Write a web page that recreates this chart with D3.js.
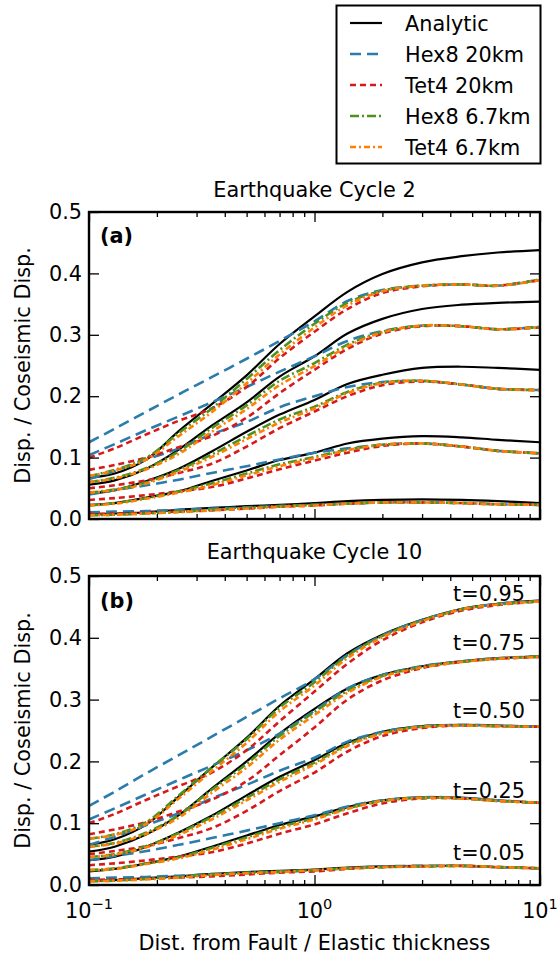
<!DOCTYPE html>
<html><head><meta charset="utf-8">
<script src="https://cdn.jsdelivr.net/npm/d3@7"></script>
<style>body{margin:0;background:#fff} text{font-family:"DejaVu Sans",sans-serif;fill:#000}</style>
</head><body><svg id="chart" width="560" height="960"></svg>
<script>
// ---------- data ----------
const xValues = [0.1,0.13,0.18,0.25,0.35,0.5,0.7,1,1.4,2,3,4.5,6.5,10];
const timeLabels = ["t=0.05","t=0.25","t=0.50","t=0.75","t=0.95"];
const seriesNames = ["Analytic","Hex8 20km","Tet4 20km","Hex8 6.7km","Tet4 6.7km"];
const yTickValues = [0,0.1,0.2,0.3,0.4,0.5];
const xMajorTicks = [0.1,1,10];
const xTickExponents = ["\u22121","0","1"];
const xMinorTicks = [0.2,0.3,0.4,0.5,0.6,0.7,0.8,0.9,2,3,4,5,6,7,8,9];
const panelTitles = ["Earthquake Cycle 2","Earthquake Cycle 10"];
const panelTags = ["(a)","(b)"];

// Cycle 2 (rows: t=0.05, 0.25, 0.50, 0.75, 0.95)
const c2Analytic = [
 [0.007,0.009,0.011,0.015,0.018,0.021,0.023,0.026,0.029,0.031,0.032,0.031,0.029,0.026],
 [0.023,0.026,0.035,0.045,0.062,0.079,0.096,0.108,0.123,0.131,0.135,0.133,0.129,0.125],
 [0.041,0.047,0.062,0.082,0.110,0.142,0.170,0.194,0.220,0.235,0.246,0.248,0.246,0.243],
 [0.056,0.063,0.082,0.113,0.152,0.190,0.232,0.265,0.302,0.326,0.342,0.349,0.352,0.354],
 [0.067,0.074,0.097,0.143,0.187,0.234,0.285,0.330,0.370,0.399,0.418,0.428,0.434,0.438]];
const c2Hex20 = [
 [0.011,0.012,0.013,0.015,0.017,0.019,0.021,0.023,0.025,0.027,0.027,0.026,0.024,0.023],
 [0.040,0.047,0.055,0.064,0.075,0.086,0.097,0.108,0.115,0.121,0.123,0.118,0.111,0.107],
 [0.065,0.078,0.097,0.115,0.138,0.158,0.182,0.200,0.215,0.223,0.225,0.219,0.212,0.210],
 [0.104,0.122,0.145,0.167,0.190,0.215,0.240,0.265,0.290,0.306,0.315,0.314,0.309,0.313],
 [0.125,0.147,0.175,0.203,0.231,0.261,0.290,0.322,0.355,0.373,0.380,0.382,0.380,0.390]];
const c2Tet20 = [
 [0.008,0.009,0.010,0.012,0.014,0.017,0.020,0.022,0.025,0.027,0.027,0.026,0.024,0.023],
 [0.031,0.034,0.039,0.045,0.052,0.066,0.081,0.095,0.108,0.119,0.123,0.118,0.111,0.107],
 [0.050,0.055,0.063,0.075,0.090,0.118,0.148,0.175,0.200,0.218,0.224,0.219,0.212,0.210],
 [0.080,0.088,0.100,0.117,0.135,0.165,0.205,0.243,0.277,0.302,0.314,0.314,0.309,0.312],
 [0.100,0.115,0.138,0.160,0.180,0.215,0.262,0.305,0.342,0.368,0.379,0.382,0.380,0.389]];
const c2Hex67 = [
 [0.006,0.007,0.009,0.012,0.015,0.018,0.021,0.023,0.025,0.027,0.027,0.026,0.024,0.023],
 [0.022,0.026,0.034,0.045,0.058,0.074,0.089,0.101,0.113,0.121,0.123,0.118,0.111,0.107],
 [0.043,0.048,0.060,0.080,0.105,0.135,0.162,0.183,0.207,0.222,0.225,0.219,0.212,0.210],
 [0.060,0.067,0.083,0.110,0.148,0.185,0.225,0.254,0.284,0.305,0.315,0.314,0.309,0.313],
 [0.070,0.080,0.100,0.140,0.180,0.228,0.275,0.318,0.352,0.372,0.380,0.382,0.380,0.390]];
const c2Tet67 = [
 [0.006,0.007,0.009,0.011,0.014,0.017,0.020,0.022,0.025,0.027,0.027,0.026,0.024,0.023],
 [0.022,0.025,0.033,0.043,0.055,0.071,0.086,0.099,0.112,0.121,0.123,0.118,0.111,0.107],
 [0.043,0.047,0.058,0.077,0.101,0.130,0.157,0.180,0.205,0.221,0.225,0.219,0.212,0.210],
 [0.060,0.066,0.081,0.106,0.142,0.179,0.218,0.249,0.281,0.304,0.315,0.314,0.309,0.312],
 [0.070,0.079,0.097,0.135,0.174,0.221,0.268,0.312,0.348,0.371,0.380,0.382,0.380,0.389]];

// Cycle 10
const c10Analytic = [
 [0.007,0.008,0.011,0.014,0.018,0.021,0.023,0.025,0.028,0.030,0.031,0.031,0.029,0.027],
 [0.022,0.026,0.035,0.046,0.062,0.080,0.097,0.111,0.126,0.137,0.142,0.141,0.137,0.133],
 [0.040,0.046,0.062,0.085,0.112,0.145,0.175,0.202,0.230,0.248,0.257,0.259,0.258,0.256],
 [0.054,0.062,0.082,0.113,0.156,0.200,0.245,0.285,0.318,0.340,0.354,0.362,0.367,0.370],
 [0.065,0.074,0.098,0.143,0.190,0.238,0.290,0.333,0.375,0.405,0.429,0.447,0.455,0.460]];
const c10Hex20 = [
 [0.011,0.012,0.013,0.015,0.017,0.019,0.021,0.024,0.027,0.030,0.031,0.031,0.029,0.027],
 [0.040,0.047,0.055,0.065,0.076,0.088,0.100,0.113,0.127,0.137,0.142,0.141,0.137,0.133],
 [0.065,0.078,0.097,0.116,0.140,0.162,0.185,0.206,0.232,0.248,0.257,0.259,0.258,0.256],
 [0.106,0.124,0.147,0.170,0.193,0.218,0.245,0.282,0.318,0.340,0.354,0.362,0.367,0.370],
 [0.128,0.151,0.181,0.210,0.240,0.272,0.302,0.333,0.372,0.404,0.429,0.446,0.455,0.460]];
const c10Tet20 = [
 [0.008,0.009,0.010,0.012,0.014,0.017,0.020,0.022,0.026,0.029,0.030,0.031,0.029,0.027],
 [0.032,0.035,0.040,0.046,0.053,0.067,0.083,0.098,0.116,0.132,0.140,0.140,0.136,0.133],
 [0.050,0.055,0.063,0.076,0.092,0.120,0.152,0.182,0.216,0.241,0.254,0.258,0.257,0.256],
 [0.082,0.090,0.102,0.119,0.138,0.168,0.210,0.255,0.300,0.331,0.351,0.361,0.366,0.369],
 [0.100,0.115,0.138,0.160,0.182,0.218,0.265,0.313,0.358,0.396,0.425,0.444,0.453,0.459]];
const c10Hex67 = [
 [0.006,0.007,0.010,0.013,0.017,0.020,0.022,0.024,0.027,0.029,0.030,0.031,0.029,0.027],
 [0.024,0.027,0.035,0.045,0.060,0.077,0.094,0.108,0.124,0.136,0.141,0.140,0.136,0.133],
 [0.045,0.050,0.063,0.084,0.110,0.141,0.171,0.198,0.227,0.246,0.256,0.258,0.257,0.256],
 [0.062,0.068,0.085,0.113,0.154,0.196,0.241,0.280,0.314,0.338,0.353,0.361,0.366,0.370],
 [0.075,0.082,0.102,0.145,0.190,0.236,0.287,0.328,0.371,0.403,0.428,0.446,0.454,0.459]];
const c10Tet67 = [
 [0.006,0.007,0.009,0.012,0.016,0.019,0.021,0.024,0.027,0.029,0.030,0.031,0.029,0.027],
 [0.024,0.026,0.034,0.043,0.057,0.074,0.091,0.106,0.123,0.136,0.141,0.140,0.136,0.133],
 [0.045,0.049,0.061,0.081,0.106,0.137,0.167,0.195,0.225,0.245,0.256,0.258,0.257,0.256],
 [0.062,0.067,0.083,0.109,0.149,0.190,0.235,0.275,0.311,0.337,0.352,0.361,0.366,0.369],
 [0.075,0.081,0.099,0.140,0.184,0.230,0.281,0.323,0.367,0.401,0.427,0.446,0.454,0.459]];

// ---------- drawing ----------
const svg = d3.select("#chart");
const FS = 20.8;
const left = 89, right = 540;
const panels = [
  {top:212, bottom:519, data:[c2Analytic,c2Hex20,c2Tet20,c2Hex67,c2Tet67], titleY:197, tagY:243, xLabels:false},
  {top:576, bottom:885, data:[c10Analytic,c10Hex20,c10Tet20,c10Hex67,c10Tet67], titleY:559, tagY:608, xLabels:true}
];
const styles = [
  {color:"#000000", width:2.2, dash:null},
  {color:"#2b7bab", width:2.6, dash:"11,6"},
  {color:"#d7191c", width:2.6, dash:"6,4"},
  {color:"#4d9221", width:2.6, dash:"9,3,2,3"},
  {color:"#ff8000", width:2.6, dash:"6,3,2,3"}
];
const x = d3.scaleLog().domain([0.1,10]).range([left,right]);

panels.forEach((p,pi) => {
  const y = d3.scaleLinear().domain([0,0.5]).range([p.bottom,p.top]);
  const g = svg.append("g");
  const clipId = "clip"+pi;
  g.append("clipPath").attr("id",clipId).append("rect")
    .attr("x",left).attr("y",p.top).attr("width",right-left).attr("height",p.bottom-p.top);
  const line = d3.line().x((d,i)=>x(xValues[i])).y(d=>y(d)).curve(d3.curveCatmullRom.alpha(0.5));
  const lg = g.append("g").attr("clip-path",`url(#${clipId})`);
  p.data.forEach((series,si) => {
    const st = styles[si];
    series.forEach(row => {
      lg.append("path").attr("d",line(row)).attr("fill","none")
        .attr("stroke",st.color).attr("stroke-width",st.width)
        .attr("stroke-dasharray",st.dash).attr("stroke-linejoin","round");
    });
  });
  // axes with inward ticks
  const yl = g.append("g").attr("transform",`translate(${left},0)`)
    .call(d3.axisLeft(y).tickValues(yTickValues).tickFormat(d3.format(".1f")).tickSize(-10).tickPadding(7));
  const yr = g.append("g").attr("transform",`translate(${right},0)`)
    .call(d3.axisRight(y).tickValues(yTickValues).tickFormat("").tickSize(-10));
  const xb = g.append("g").attr("transform",`translate(0,${p.bottom})`)
    .call(d3.axisBottom(x).tickValues(xMajorTicks).tickFormat("").tickSize(-10));
  const xt = g.append("g").attr("transform",`translate(0,${p.top})`)
    .call(d3.axisTop(x).tickValues(xMajorTicks).tickFormat("").tickSize(-10));
  const xbm = g.append("g").attr("transform",`translate(0,${p.bottom})`)
    .call(d3.axisBottom(x).tickValues(xMinorTicks).tickFormat("").tickSize(-5));
  const xtm = g.append("g").attr("transform",`translate(0,${p.top})`)
    .call(d3.axisTop(x).tickValues(xMinorTicks).tickFormat("").tickSize(-5));
  [yl,yr,xb,xt,xbm,xtm].forEach(a => {
    a.select(".domain").remove();
    a.selectAll(".tick line").attr("stroke","#000").attr("stroke-width",1.3);
  });
  yl.selectAll(".tick text").attr("font-size",FS).attr("font-family","DejaVu Sans").attr("fill","#000");
  g.append("rect").attr("x",left).attr("y",p.top).attr("width",right-left).attr("height",p.bottom-p.top)
    .attr("fill","none").attr("stroke","#000").attr("stroke-width",2.4);
  // title, tag, y label
  g.append("text").attr("x",(left+right)/2).attr("y",p.titleY).attr("text-anchor","middle")
    .attr("font-size",FS).text(panelTitles[pi]);
  g.append("text").attr("x",100).attr("y",p.tagY).attr("font-size",FS).attr("font-weight","bold").text(panelTags[pi]);
  g.append("text").attr("transform",`translate(30,${(p.top+p.bottom)/2}) rotate(-90)`)
    .attr("text-anchor","middle").attr("font-size",FS).text("Disp. / Coseismic Disp.");
  if (p.xLabels) {
    xMajorTicks.forEach((v,i) => {
      const t = g.append("text").attr("x",x(v)).attr("y",918).attr("text-anchor","middle").attr("font-size",FS);
      t.append("tspan").text("10");
      t.append("tspan").attr("dy",-9).attr("font-size",14.5).text(xTickExponents[i]);
    });
    g.append("text").attr("x",(left+right)/2).attr("y",950).attr("text-anchor","middle")
      .attr("font-size",FS).text("Dist. from Fault / Elastic thickness");
    const tY = [860,798,718,650,601];
    timeLabels.forEach((lab,i) => {
      g.append("text").attr("x",525).attr("y",tY[i]).attr("text-anchor","end").attr("font-size",FS).text(lab);
    });
  }
});

// legend
const leg = svg.append("g");
leg.append("rect").attr("x",336.5).attr("y",5.5).attr("width",204).attr("height",158)
  .attr("fill","#fff").attr("stroke","#000").attr("stroke-width",2);
seriesNames.forEach((name,i) => {
  const cy = 23 + i*31;
  const st = styles[i];
  leg.append("line").attr("x1",350).attr("x2",382).attr("y1",cy).attr("y2",cy)
    .attr("stroke",st.color).attr("stroke-width",st.width).attr("stroke-dasharray",st.dash);
  leg.append("text").attr("x",405).attr("y",cy+7.5).attr("font-size",FS).text(name);
});
</script></body></html>
